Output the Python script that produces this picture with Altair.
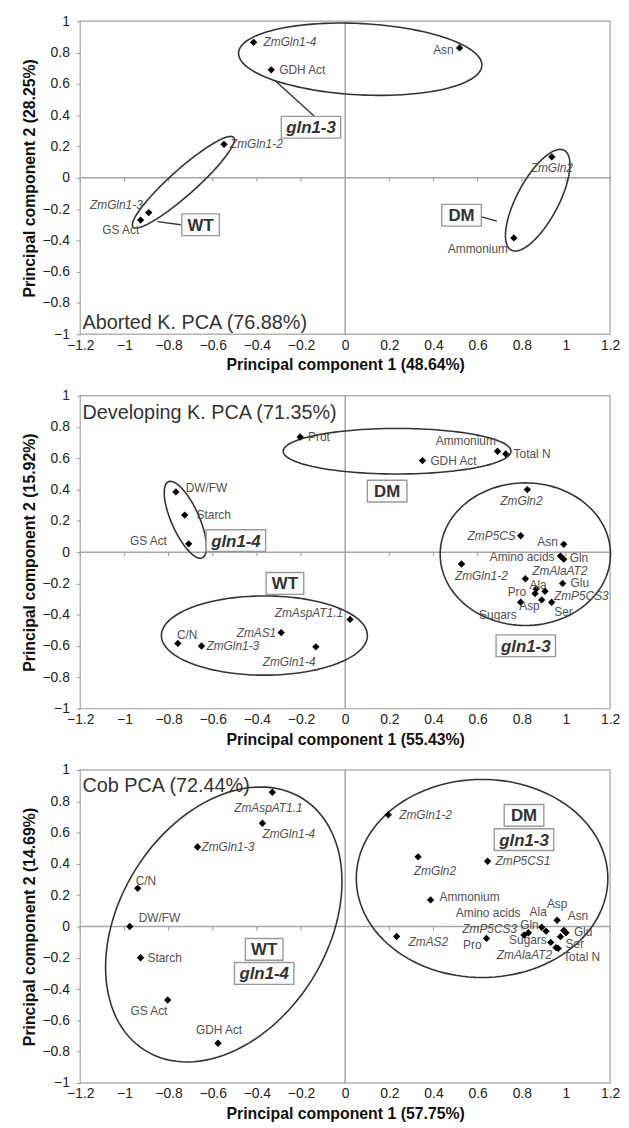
import altair as alt
import pandas as pd
import numpy as np

# ---------------- geometry of each panel (plot area) ----------------
W, H = 535, 316
XMIN, XMAX, YMIN, YMAX = -1.2, 1.2, -1.0, 1.0
PX = W / (XMAX - XMIN)
PY = H / (YMAX - YMIN)

x_ticks = [-1.2, -1, -0.8, -0.6, -0.4, -0.2, 0, 0.2, 0.4, 0.6, 0.8, 1, 1.2]
y_ticks = [-1, -0.8, -0.6, -0.4, -0.2, 0, 0.2, 0.4, 0.6, 0.8, 1]

# ---------------- Panel 1 : Aborted kernels ----------------
p1_title = "Aborted K. PCA (76.88%)"
p1_xtitle = "Principal component 1 (48.64%)"
p1_ytitle = "Principal component 2 (28.25%)"
p1_names = ["ZmGln1-4", "GDH Act", "Asn", "ZmGln1-2", "ZmGln1-3", "GS Act", "ZmGln2", "Ammonium"]
p1_x = [-0.415, -0.335, 0.518, -0.549, -0.89, -0.927, 0.936, 0.764]
p1_y = [0.866, 0.69, 0.83, 0.214, -0.222, -0.27, 0.134, -0.384]
p1_groups = ["gln1-3", "WT", "DM"]
p1_group_x = [-0.155, -0.655, 0.527]
p1_group_y = [0.323, -0.30, -0.239]

# ---------------- Panel 2 : Developing kernels ----------------
p2_title = "Developing K. PCA (71.35%)"
p2_xtitle = "Principal component 1 (55.43%)"
p2_ytitle = "Principal component 2 (15.92%)"
p2_names = ["Prot", "Ammonium", "Total N", "GDH Act", "DW/FW", "Starch", "GS Act",
            "ZmGln2", "ZmP5CS", "Asn", "Amino acids", "Gln", "ZmGln1-2", "ZmAlaAT2",
            "Glu", "Ala", "Pro", "ZmP5CS3", "Sugars", "Asp", "Ser",
            "ZmAspAT1.1", "ZmAS1", "C/N", "ZmGln1-3", "ZmGln1-4"]
p2_x = [-0.204, 0.69, 0.727, 0.35, -0.767, -0.727, -0.709,
        0.825, 0.795, 0.99, 0.975, 0.99, 0.527, 0.816,
        0.985, 0.865, 0.86, 0.905, 0.795, 0.89, 0.935,
        0.022, -0.29, -0.758, -0.651, -0.133]
p2_y = [0.736, 0.645, 0.628, 0.585, 0.385, 0.237, 0.053,
        0.40, 0.105, 0.05, -0.025, -0.045, -0.076, -0.17,
        -0.20, -0.235, -0.265, -0.25, -0.32, -0.305, -0.32,
        -0.43, -0.514, -0.583, -0.60, -0.605]
p2_groups = ["DM", "gln1-4", "WT", "gln1-3"]
p2_group_x = [0.19, -0.495, -0.273, 0.818]
p2_group_y = [0.39, 0.074, -0.20, -0.598]

# ---------------- Panel 3 : Cob ----------------
p3_title = "Cob PCA (72.44%)"
p3_xtitle = "Principal component 1 (57.75%)"
p3_ytitle = "Principal component 2 (14.69%)"
p3_names = ["ZmAspAT1.1", "ZmGln1-4", "ZmGln1-3", "C/N", "DW/FW", "Starch", "GS Act", "GDH Act",
            "ZmGln1-2", "ZmGln2", "ZmP5CS1", "Ammonium", "ZmAS2", "Pro", "ZmP5CS3",
            "Amino acids", "Gln", "Ala", "Asp", "Asn", "Glu", "Ser", "Sugars", "ZmAlaAT2", "Total N"]
p3_x = [-0.33, -0.375, -0.669, -0.94, -0.976, -0.927, -0.804, -0.576,
        0.195, 0.33, 0.645, 0.387, 0.233, 0.64, 0.81,
        0.83, 0.89, 0.91, 0.96, 0.99, 1.0, 0.975, 0.931, 0.955, 0.965]
p3_y = [0.858, 0.66, 0.508, 0.244, 0.0, -0.20, -0.47, -0.746,
        0.714, 0.445, 0.417, 0.17, -0.064, -0.076, -0.055,
        -0.04, -0.005, -0.03, 0.04, -0.025, -0.04, -0.065, -0.102, -0.135, -0.14]
p3_groups = ["DM", "gln1-3", "WT", "gln1-4"]
p3_group_x = [0.81, 0.81, -0.367, -0.367]
p3_group_y = [0.71, 0.555, -0.146, -0.30]

# ---------------- label placement (pixel offsets, alignment) ----------------
p1_lab = {"ZmGln1-4": (10, 0, "left"), "GDH Act": (8, 0, "left"), "Asn": (-6, 2, "right"),
          "ZmGln1-2": (6, 0, "left"), "ZmGln1-3": (-6, -8, "right"), "GS Act": (-20, 10, "center"),
          "ZmGln2": (0, 11, "center"), "Ammonium": (-6, 11, "right")}
p2_lab = {"Prot": (8, 0, "left"), "Ammonium": (-32, -10, "center"), "Total N": (8, 0, "left"),
          "GDH Act": (8, 0, "left"), "DW/FW": (10, -4, "left"), "Starch": (12, 0, "left"),
          "GS Act": (-22, -3, "right"), "ZmGln2": (-6, 12, "center"), "ZmP5CS": (-5, 0, "right"),
          "Asn": (-6, -2, "right"), "Amino acids": (-6, 1, "right"), "Gln": (6, -1, "left"),
          "ZmGln1-2": (20, 12, "center"), "ZmAlaAT2": (7, -8, "left"), "Glu": (8, 0, "left"),
          "Ala": (2, -4, "center"), "Pro": (-9, -2, "right"), "ZmP5CS3": (9, 5, "left"),
          "Sugars": (-23, 13, "center"), "Asp": (-2, 6, "right"), "Ser": (12, 10, "center"),
          "ZmAspAT1.1": (-7, -6, "right"), "ZmAS1": (-5, 0, "right"), "C/N": (-1, -8, "left"),
          "ZmGln1-3": (5, 0, "left"), "ZmGln1-4": (-27, 15, "center")}
p3_lab = {"ZmAspAT1.1": (-4, 16, "center"), "ZmGln1-4": (0, 11, "left"), "ZmGln1-3": (4, 0, "left"),
          "C/N": (-2, -7, "left"), "DW/FW": (9, -9, "left"), "Starch": (7, 0, "left"),
          "GS Act": (-19, 11, "center"), "GDH Act": (1, -13, "center"), "ZmGln1-2": (11, 0, "left"),
          "ZmGln2": (17, 14, "center"), "ZmP5CS1": (8, 0, "left"), "Ammonium": (9, -3, "left"),
          "ZmAS2": (12, 6, "left"), "Pro": (-5, 7, "right"), "ZmP5CS3": (-7, -6, "right"),
          "Amino acids": (-8, -20, "right"), "Gln": (-3, -2, "right"), "Ala": (-8, -19, "center"),
          "Asp": (0, -16, "center"), "Asn": (4, -14, "left"), "Glu": (8, -1, "left"),
          "Ser": (5, 7, "left"), "Sugars": (-4, -2, "right"), "ZmAlaAT2": (-4, 8, "right"),
          "Total N": (5, 9, "left")}

# ellipses: centre (data), semi-axes (px), rotation (deg, screen, counter-clockwise)
p1_ell = [(0.068, 0.758, 123, 36, -3), (-0.733, -0.028, 68, 13, 41.7), (0.872, -0.143, 57, 21, 62)]
p2_ell = [(0.235, 0.645, 115, 23, 0), (-0.724, 0.207, 42, 14, -66),
          (0.816, -0.013, 86, 72, 0), (-0.366, -0.533, 104, 40, 0)]
p3_ell = [(-0.55, 0.013, 150, 105, 58), (0.62, 0.307, 127, 100, 0)]

# connectors (panel 1 only)
p1_conn = [(-0.136, 0.389, -0.318, 0.622), (-0.745, -0.30, -0.85, -0.28), (0.618, -0.25, 0.687, -0.277)]

BOX_W = {"WT": 38, "DM": 40, "gln1-3": 60, "gln1-4": 60}
BOX_H = 22
FONT = "Liberation Sans"

xs = alt.Scale(domain=[XMIN, XMAX], nice=False, zero=False)
ys = alt.Scale(domain=[YMIN, YMAX], nice=False, zero=False)


def panel(names, px_, py_, lab, gnames, gx, gy, ells, conns, title, tpos, tbase, xtitle, ytitle):
    xaxis = alt.Axis(values=x_ticks, format="~g", ticks=False, labelPadding=4, titlePadding=5,
                     labelFlush=False, labelOverlap=False, title=xtitle)
    yaxis = alt.Axis(values=y_ticks, format="~g", ticks=True, tickSize=4, tickColor="#999999",
                     labelPadding=7, titlePadding=5, labelFlush=False, labelOverlap=False, title=ytitle)

    def X(f):
        return alt.X(f"{f}:Q", scale=xs, axis=xaxis)

    def Y(f):
        return alt.Y(f"{f}:Q", scale=ys, axis=yaxis)

    layers = []
    zx = pd.DataFrame({"vx": [0.0]})
    layers.append(alt.Chart(zx).mark_rule(color="#a6a6a6", strokeWidth=1.5).encode(x=X("vx")))
    zy = pd.DataFrame({"hy": [0.0]})
    layers.append(alt.Chart(zy).mark_rule(color="#a6a6a6", strokeWidth=1.5).encode(y=Y("hy")))
    tk = pd.DataFrame({"tx": [t for t in x_ticks if t != 0], "ty": [0.0] * (len(x_ticks) - 1)})
    layers.append(alt.Chart(tk).mark_point(shape="M0,0L0,1", size=64, stroke="#a6a6a6",
                                           strokeWidth=1.2, filled=False, opacity=1)
                  .encode(x=X("tx"), y=Y("ty")))

    # ellipses
    t = np.linspace(0, 2 * np.pi, 121)
    rows = []
    for k, (cx, cy, a, b, ang) in enumerate(ells):
        th = np.radians(ang)
        ex = a * np.cos(t) * np.cos(th) - b * np.sin(t) * np.sin(th)
        ey = a * np.cos(t) * np.sin(th) + b * np.sin(t) * np.cos(th)
        for i in range(len(t)):
            rows.append({"g": k, "i": i, "ex": cx + ex[i] / PX, "ey": cy + ey[i] / PY})
    edf = pd.DataFrame(rows)
    layers.append(alt.Chart(edf).mark_line(color="#333333", strokeWidth=1.6)
                  .encode(x=X("ex"), y=Y("ey"), detail="g:N", order="i:Q"))

    if conns:
        cdf = pd.DataFrame(conns, columns=["c1", "d1", "c2", "d2"])
        layers.append(alt.Chart(cdf).mark_rule(color="#333333", strokeWidth=1.4)
                      .encode(x=X("c1"), y=Y("d1"), x2="c2:Q", y2="d2:Q"))

    # group boxes
    bdf = pd.DataFrame({"name": gnames, "bx": gx, "by": gy})
    bdf["x1"] = [x - BOX_W[n] / 2 / PX for n, x in zip(gnames, gx)]
    bdf["x2"] = [x + BOX_W[n] / 2 / PX for n, x in zip(gnames, gx)]
    bdf["y1"] = [y - BOX_H / 2 / PY for y in gy]
    bdf["y2"] = [y + BOX_H / 2 / PY for y in gy]
    layers.append(alt.Chart(bdf).mark_rect(fill="#fbfbfb", stroke="#9a9a9a", strokeWidth=1.4)
                  .encode(x=X("x1"), x2="x2:Q", y=Y("y1"), y2="y2:Q"))
    for it in [True, False]:
        sub = bdf[[n.startswith("gln") == it for n in bdf["name"]]]
        if len(sub):
            layers.append(alt.Chart(sub).mark_text(font=FONT, fontSize=17, fontWeight="bold",
                                                   fontStyle="italic" if it else "normal",
                                                   color="#333333", baseline="middle", align="center", dy=1)
                          .encode(x=X("bx"), y=Y("by"), text="name:N"))

    # points
    pdf = pd.DataFrame({"name": names, "px": px_, "py": py_})
    layers.append(alt.Chart(pdf).mark_point(shape="diamond", filled=True, color="#000000", size=55, opacity=1)
                  .encode(x=X("px"), y=Y("py")))

    # point labels
    ldf = pdf.copy()
    ldf["lx"] = [x + lab[n][0] / PX for n, x in zip(names, px_)]
    ldf["ly"] = [y - lab[n][1] / PY for n, y in zip(names, py_)]
    ldf["al"] = [lab[n][2] for n in names]
    ldf["it"] = [n.startswith("Zm") for n in names]
    for al in ["left", "center", "right"]:
        for it in [True, False]:
            sub = ldf[(ldf["al"] == al) & (ldf["it"] == it)]
            if len(sub):
                layers.append(alt.Chart(sub).mark_text(font=FONT, fontSize=12, align=al, baseline="middle",
                                                       fontStyle="italic" if it else "normal", color="#505050")
                              .encode(x=X("lx"), y=Y("ly"), text="name:N"))

    # panel title
    tdf = pd.DataFrame({"t": [title], "tx": [tpos[0]], "ty": [tpos[1]]})
    layers.append(alt.Chart(tdf).mark_text(font=FONT, fontSize=20, align="left", baseline=tbase, color="#333333")
                  .encode(x=X("tx"), y=Y("ty"), text="t:N"))

    return alt.layer(*layers).properties(width=W, height=H)


c1 = panel(p1_names, p1_x, p1_y, p1_lab, p1_groups, p1_group_x, p1_group_y, p1_ell, p1_conn,
           p1_title, (-1.19, -0.965), "alphabetic", p1_xtitle, p1_ytitle)
c2 = panel(p2_names, p2_x, p2_y, p2_lab, p2_groups, p2_group_x, p2_group_y, p2_ell, None,
           p2_title, (-1.19, 0.85), "alphabetic", p2_xtitle, p2_ytitle)
c3 = panel(p3_names, p3_x, p3_y, p3_lab, p3_groups, p3_group_x, p3_group_y, p3_ell, None,
           p3_title, (-1.19, 0.86), "alphabetic", p3_xtitle, p3_ytitle)

chart = (alt.vconcat(c1, c2, c3, spacing=14)
         .properties(padding={"left": 12, "top": 0, "right": 0, "bottom": 0}, background="white")
         .configure_view(stroke="#b3b3b3", strokeWidth=1.5)
         .configure_axis(grid=False, domain=False, labelFont=FONT, titleFont=FONT,
                         labelFontSize=14, titleFontSize=16, titleFontWeight="bold",
                         labelColor="#222222", titleColor="#111111"))

chart.save("out.html", embed_options={"renderer": "svg", "actions": False})
